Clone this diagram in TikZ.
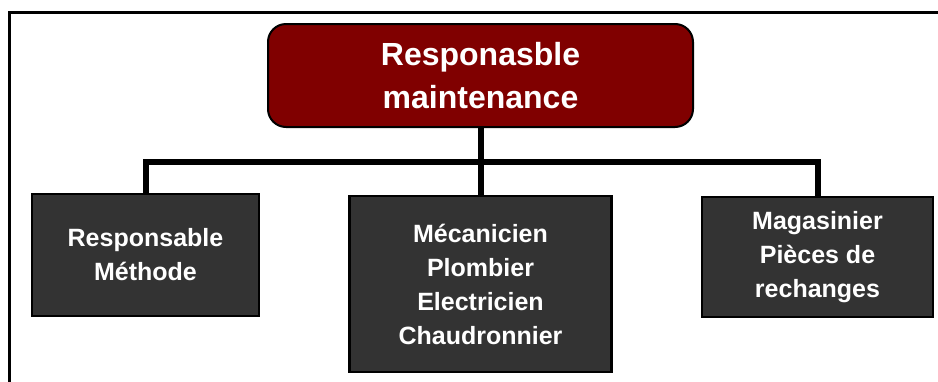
\documentclass[tikz,border=0pt]{standalone}
\usepackage{fontspec}
\setmainfont{Liberation Sans}
\usetikzlibrary{calc}
\definecolor{bordeaux}{HTML}{800000}
\definecolor{anthracite}{HTML}{333333}

\begin{document}
\begin{tikzpicture}[x=1pt,y=-1pt,
  chef/.style={draw=black,line width=2pt,fill=bordeaux,rounded corners=18pt,
    text=white,font=\fontsize{32}{43}\selectfont\bfseries,align=center,
    minimum width=425pt,minimum height=103pt,inner sep=0pt},
  poste/.style={draw=black,line width=2.5pt,fill=anthracite,
    text=white,font=\fontsize{25}{34}\selectfont\bfseries,align=center,inner sep=0pt},
  lien/.style={line width=6pt,black,line join=miter}]
\useasboundingbox (0,0) rectangle (938,381);
\fill[white] (0,0) rectangle (938,381);
% cadre
\draw[line width=3pt] (9,420) -- (9,12) -- (960,12);
  \node[chef] (chef) at (480.5,75.5) {Responasble\\maintenance};
  \node[poste,minimum width=227pt,minimum height=122pt] (methode) at (145.5,255) {Responsable\\Méthode};
  \node[poste,minimum width=262pt,minimum height=176pt] (atelier) at (480.5,284) {Mécanicien\\Plombier\\Electricien\\Chaudronnier};
  \node[poste,minimum width=231pt,minimum height=120pt] (magasin) at (817.5,257) {Magasinier\\Pièces de\\rechanges};
  \coordinate (barre) at (0,162);
  \draw[lien] (chef.south) -- (atelier.north);
  \draw[lien] (methode.north) -- (methode.north |- barre) -- (magasin.north |- barre) -- (magasin.north);
\end{tikzpicture}
\end{document}
